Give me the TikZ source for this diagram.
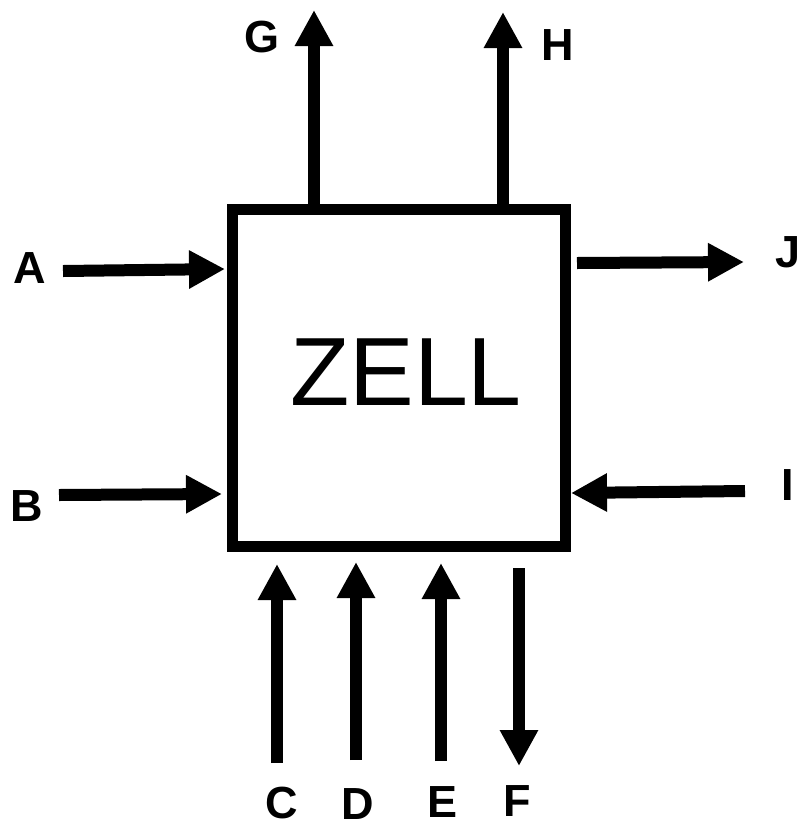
\documentclass[tikz,border=0pt]{standalone}
\usepackage{fontspec}
\setmainfont{Liberation Sans}
\usetikzlibrary{arrows.meta}
\begin{document}
\begin{tikzpicture}[x=1pt,y=-1pt,
  lbl/.style={font=\fontsize{45}{45}\selectfont\bfseries, inner sep=0pt},
  flow/.style={line width=12pt, -{Triangle[length=36pt,width=36pt]}}]
\useasboundingbox (0,0) rectangle (801,823);
\node[draw, line width=11pt, minimum width=333pt, minimum height=337pt, inner sep=0pt] (cell) at (398.5,377.5) {};
\node[font=\fontsize{97}{97}\selectfont, inner sep=0pt] (zell) at (406,372) {ZELL};
% labels
\node[lbl] (G) at (262,37) {G};
\node[lbl] (H) at (558,45) {H};
\node[lbl] (A) at (30,268) {A};
\node[lbl] (B) at (27,506) {B};
\node[lbl] (J) at (788,252) {J};
\node[lbl] (I) at (788,485) {I};
\node[lbl] (C) at (282,803) {C};
\node[lbl] (D) at (358,804) {D};
\node[lbl] (E) at (443,802) {E};
\node[lbl] (F) at (517,801) {F};
% arrow endpoints
\coordinate (g0) at (314,209); \coordinate (g1) at (314,10);
\coordinate (h0) at (503,209); \coordinate (h1) at (503,12);
\coordinate (a0) at (63,271);  \coordinate (a1) at (225,269);
\coordinate (b0) at (59,495);  \coordinate (b1) at (222,494);
\coordinate (j0) at (577,263); \coordinate (j1) at (744,262);
\coordinate (i0) at (745,491); \coordinate (i1) at (571,493);
\coordinate (c0) at (277,763); \coordinate (c1) at (277,564);
\coordinate (d0) at (356,760); \coordinate (d1) at (356,562);
\coordinate (e0) at (441,761); \coordinate (e1) at (441,563);
\coordinate (f0) at (519,568); \coordinate (f1) at (519,766);
\foreach \p in {g,h,a,b,j,i,c,d,e,f}
  \draw[flow] (\p0) -- (\p1);
\end{tikzpicture}
\end{document}
